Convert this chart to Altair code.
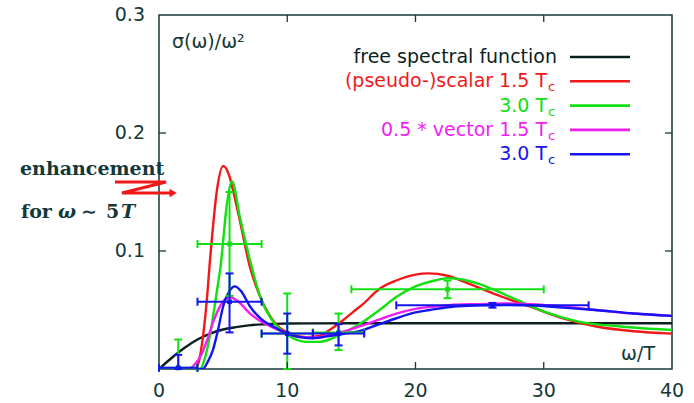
import altair as alt
import pandas as pd

# ---------------- data ----------------
free_w = [0, 1, 2, 3, 4, 5, 6, 7, 8, 9, 10, 12, 15, 20, 30, 40]
free_s = [0, 0.0095, 0.018, 0.025, 0.030, 0.0335, 0.0355, 0.037, 0.0378, 0.0382,
          0.0385, 0.0387, 0.0388, 0.0388, 0.0388, 0.0388]

ps15_w = [0, 2.8, 3.1, 3.4, 3.7, 4.0, 4.5, 5.0, 5.5, 5.8, 6.3, 7.1, 7.9, 8.9, 10, 11.5,
          12.5, 13.3, 14.2, 15.1, 15.9, 17.2, 18.5, 20, 21, 22.5, 24, 26.3, 28.9, 31.5,
          34.1, 37, 40]
ps15_s = [0, 0, 0.006, 0.025, 0.055, 0.095, 0.150, 0.172, 0.163, 0.150, 0.126, 0.086,
          0.061, 0.041, 0.031, 0.027, 0.028, 0.033, 0.040, 0.048, 0.055, 0.068, 0.075,
          0.080, 0.081, 0.079, 0.073, 0.063, 0.053, 0.043, 0.036, 0.032, 0.030]

ps30_w = [0, 3.2, 3.6, 4.0, 4.5, 4.8, 5.3, 5.7, 6.3, 7.1, 7.9, 8.9, 10, 11.5, 12.5, 13.3,
          14.1, 15, 15.9, 17.2, 18.5, 20, 21.5, 22.5, 24, 25, 27.6, 30.2, 32.8, 36, 40]
ps30_s = [0, 0, 0.010, 0.030, 0.065, 0.087, 0.140, 0.159, 0.129, 0.092, 0.061, 0.040,
          0.029, 0.023, 0.023, 0.025, 0.029, 0.034, 0.040, 0.050, 0.061, 0.070, 0.075,
          0.077, 0.075, 0.072, 0.060, 0.048, 0.040, 0.036, 0.033]

v15_w = [0, 2.3, 2.8, 3.3, 3.8, 4.3, 4.8, 5.5, 6.2, 7.1, 8, 8.9, 10, 11, 12.5, 13.3, 14.5,
         15.9, 17.2, 18.5, 20, 21.5, 23, 25, 27, 29, 31.5, 34, 37, 40]
v15_s = [0, 0, 0.004, 0.012, 0.026, 0.042, 0.054, 0.061, 0.057, 0.047, 0.040, 0.035,
         0.030, 0.027, 0.027, 0.029, 0.032, 0.037, 0.042, 0.047, 0.051, 0.053, 0.0545,
         0.055, 0.0555, 0.055, 0.053, 0.050, 0.047, 0.045]

v30_w = [0, 3.4, 3.8, 4.2, 4.6, 5.0, 5.5, 5.9, 6.4, 7.1, 8, 8.9, 10, 11, 12, 13.3, 14.5,
         15.9, 17.2, 18.5, 20, 21.1, 23, 25, 27, 29, 31.5, 34, 37, 40]
v30_s = [0, 0, 0.006, 0.016, 0.033, 0.053, 0.066, 0.070, 0.066, 0.053, 0.042, 0.036,
         0.030, 0.027, 0.026, 0.028, 0.030, 0.033, 0.038, 0.043, 0.048, 0.050, 0.053,
         0.054, 0.0545, 0.054, 0.052, 0.050, 0.047, 0.045]

# data points with error bars (green: pseudo-scalar 3.0 Tc, blue: vector 3.0 Tc)
g_w = [1.5, 5.5, 10, 14, 22.5]
g_s = [0.001, 0.106, 0.030, 0.031, 0.0675]
g_wlo = [0, 3, 8, 12, 15]
g_whi = [3, 8, 12, 16, 30]
g_slo = [0.0, 0.062, 0.0, 0.016, 0.060]
g_shi = [0.025, 0.150, 0.064, 0.047, 0.075]

b_w = [1.5, 5.5, 10, 14, 26]
b_s = [0.001, 0.057, 0.030, 0.030, 0.054]
b_wlo = [0, 3, 8, 12, 18.5]
b_whi = [3, 8, 12, 16, 33.5]
b_slo = [0.0, 0.031, 0.013, 0.020, 0.052]
b_shi = [0.012, 0.081, 0.047, 0.038, 0.056]

x_labels = [0, 10, 20, 30, 40]
y_labels = [0.1, 0.2, 0.3]
x_inner_ticks = [10, 20, 30]
y_inner_ticks = [0.1, 0.2]

legend_labels = ["free spectral function", "(pseudo-)scalar 1.5 T", "3.0 T",
                 "0.5 * vector 1.5 T", "3.0 T"]
legend_subs = ["", "c", "c", "c", "c"]

# annotation arrow (zig-zag) in data units
arrow_w = [-3.43, 0.55, -2.89, 1.1]
arrow_s = [0.1585, 0.1585, 0.1492, 0.1492]

# ---------------- style ----------------
C_BLACK = "#0b1f1f"
C_RED = "#f01818"
C_GREEN = "#12e012"
C_MAG = "#f01ef0"
C_BLUE = "#1414f0"
C_TEXT = "#143838"
legend_colors = [C_BLACK, C_RED, C_GREEN, C_MAG, C_BLUE]

W, H = 513, 354
SANS = "DejaVu Sans"
SERIF = "DejaVu Serif"

xs = alt.Scale(domain=[0, 40], nice=False, zero=False)
ys = alt.Scale(domain=[0, 0.3], nice=False, zero=False)


def X(f):
    return alt.X(f, scale=xs, axis=None)


def Y(f):
    return alt.Y(f, scale=ys, axis=None)


def curve(w, s, color):
    df = pd.DataFrame({"w": w, "s": s})
    return alt.Chart(df).mark_line(color=color, strokeWidth=2.4,
                                   interpolate="monotone", clip=True).encode(
        x=X("w:Q"), y=Y("s:Q"))


def errbars(w, s, wlo, whi, slo, shi, color):
    df = pd.DataFrame({"w": w, "s": s, "w_lo": wlo, "w_hi": whi, "s_lo": slo, "s_hi": shi})
    b = alt.Chart(df)
    v = b.mark_rule(color=color, strokeWidth=2).encode(x=X("w:Q"), y=Y("s_lo:Q"), y2="s_hi:Q")
    h = b.mark_rule(color=color, strokeWidth=2).encode(x=X("w_lo:Q"), x2="w_hi:Q", y=Y("s:Q"))
    cv = b.transform_fold(["s_lo", "s_hi"], as_=["k", "cap"]).mark_tick(
        color=color, orient="horizontal", size=8, thickness=2, opacity=1).encode(
        x=X("w:Q"), y=Y("cap:Q"))
    ch = b.transform_fold(["w_lo", "w_hi"], as_=["k", "capx"]).mark_tick(
        color=color, orient="vertical", size=8, thickness=2, opacity=1).encode(
        x=X("capx:Q"), y=Y("s:Q"))
    pt = b.mark_point(shape="square", filled=True, size=22, color=color, opacity=1).encode(
        x=X("w:Q"), y=Y("s:Q"))
    return [v, h, cv, ch, pt]


# axis labels (drawn through the shared scales)
xl = alt.Chart(pd.DataFrame({"t": x_labels})).mark_text(
    font=SANS, fontSize=19, color=C_TEXT, baseline="middle", align="center").encode(
    x=X("t:Q"), y=alt.value(H + 22), text=alt.Text("t:Q", format="d"))
yl = alt.Chart(pd.DataFrame({"t": y_labels})).mark_text(
    font=SANS, fontSize=19, color=C_TEXT, baseline="middle", align="right").encode(
    y=Y("t:Q"), x=alt.value(-14), text=alt.Text("t:Q", format=".1f"))

# inward ticks on all four sides
xt = alt.Chart(pd.DataFrame({"t": x_inner_ticks}))
yt = alt.Chart(pd.DataFrame({"t": y_inner_ticks}))
ticks = [
    xt.mark_rule(color=C_TEXT, strokeWidth=1.3).encode(x=X("t:Q"), y=alt.value(H), y2=alt.value(H - 7)),
    xt.mark_rule(color=C_TEXT, strokeWidth=1.3).encode(x=X("t:Q"), y=alt.value(0), y2=alt.value(7)),
    yt.mark_rule(color=C_TEXT, strokeWidth=1.3).encode(y=Y("t:Q"), x=alt.value(0), x2=alt.value(7)),
    yt.mark_rule(color=C_TEXT, strokeWidth=1.3).encode(y=Y("t:Q"), x=alt.value(W - 7), x2=alt.value(W)),
]

# legend (gnuplot style: text right-aligned, sample line to the right)
leg_df = pd.DataFrame({"row": list(range(len(legend_labels))), "label": legend_labels,
                       "sub": legend_subs, "color": legend_colors})
leg = alt.Chart(leg_df).transform_calculate(
    yy="42 + 24.3 * datum.row",
    xe="datum.sub == '' ? 398 : 388",
    xs1="411", xs2="471")
leg_text = leg.mark_text(align="right", baseline="middle", font=SANS, fontSize=19).encode(
    x=alt.X("xe:Q", scale=None, axis=None), y=alt.Y("yy:Q", scale=None, axis=None),
    text="label:N", color=alt.Color("color:N", scale=None))
leg_sub = leg.transform_filter("datum.sub != ''").mark_text(
    align="left", baseline="middle", font=SANS, fontSize=13, dy=6).encode(
    x=alt.value(389), y=alt.Y("yy:Q", scale=None, axis=None),
    text="sub:N", color=alt.Color("color:N", scale=None))
leg_line = leg.mark_rule(strokeWidth=2.6).encode(
    x=alt.X("xs1:Q", scale=None, axis=None), x2="xs2:Q",
    y=alt.Y("yy:Q", scale=None, axis=None), color=alt.Color("color:N", scale=None))


def label(txt, x, y, **kw):
    return alt.Chart(pd.DataFrame({"t": [txt]})).mark_text(**kw).encode(
        x=alt.value(x), y=alt.value(y), text="t:N")


serif_b = dict(align="left", baseline="alphabetic", font=SERIF, fontSize=19,
               fontWeight="bold", color=C_TEXT)
texts = [
    label("σ(ω)/ω²", 13, 27, align="left", baseline="middle", font=SANS, fontSize=19, color=C_TEXT),
    label("ω/T", 496, 339, align="right", baseline="middle", font=SANS, fontSize=19, color=C_TEXT),
    label("enhancement", -139, 160, **serif_b),
    label("for", -138, 203, **serif_b),
    label("ω", -101, 203, fontStyle="italic", **serif_b),
    label("∼", -78, 203, **serif_b),
    label("5", -53, 203, **serif_b),
    label("T", -38, 203, fontStyle="italic", **serif_b),
]

arrow_df = pd.DataFrame({"w": arrow_w, "s": arrow_s, "i": list(range(len(arrow_w)))})
arrow = alt.Chart(arrow_df).mark_line(color=C_RED, strokeWidth=3, clip=False).encode(
    x=X("w:Q"), y=Y("s:Q"), order="i:Q")
arrow_head = alt.Chart(arrow_df.tail(1)).mark_point(
    shape="triangle-right", filled=True, size=70, color=C_RED, opacity=1).encode(
    x=X("w:Q"), y=Y("s:Q"))

layers = [
    curve(free_w, free_s, C_BLACK),
    curve(ps15_w, ps15_s, C_RED),
    curve(ps30_w, ps30_s, C_GREEN),
    curve(v15_w, v15_s, C_MAG),
    curve(v30_w, v30_s, C_BLUE),
]
layers += errbars(g_w, g_s, g_wlo, g_whi, g_slo, g_shi, C_GREEN)
layers += errbars(b_w, b_s, b_wlo, b_whi, b_slo, b_shi, C_BLUE)
layers += ticks + [xl, yl, leg_line, leg_text, leg_sub] + texts + [arrow, arrow_head]

chart = alt.layer(*layers).properties(
    width=W, height=H,
    padding={"left": 159, "top": 15, "right": 22, "bottom": 34},
    autosize=alt.AutoSizeParams(type="none"),
    background="white",
).configure_view(stroke=C_TEXT, strokeWidth=1.5)

chart.save("out.html", embed_options={"renderer": "svg", "actions": False})
